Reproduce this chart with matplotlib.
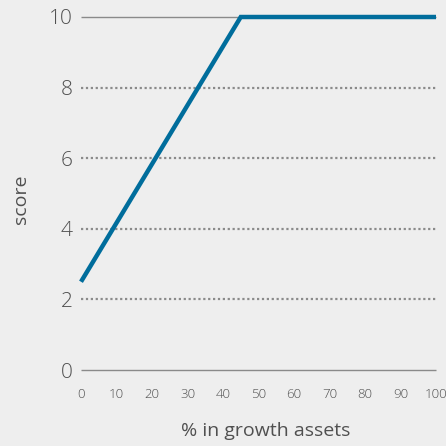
import matplotlib
matplotlib.use("Agg")
import matplotlib.pyplot as plt

BG, LINE, GRID, TXT = "#eeeeee", "#006d9c", "#8a8a8a", "#505050"

growth_pct = [0, 45, 100]
score = [2.5, 10, 10]
yticks = [0, 2, 4, 6, 8, 10]
xticks = list(range(0, 101, 10))

plt.rcParams["font.family"] = ["Open Sans", "DejaVu Sans"]
plt.rcParams["font.weight"] = "light"

fig = plt.figure(figsize=(4.46, 4.46), dpi=100, facecolor=BG)
ax = fig.add_axes([81 / 446, 1 - 370 / 446, 355 / 446, 353 / 446], facecolor=BG)

# gridlines: solid at top and bottom, dotted in between
for y in yticks:
    if y in (0, 10):
        ax.plot([0, 100], [y, y], color=GRID, lw=1.0, zorder=1,
                solid_capstyle="butt", clip_on=False)
    else:
        ax.plot([0, 100], [y, y], color=GRID, lw=1.6, ls=(0, (1, 1.2)), zorder=1)

ax.plot(growth_pct, score, color=LINE, lw=3.2, zorder=3, solid_capstyle="butt",
        solid_joinstyle="miter", clip_on=False)

ax.set_xlim(0, 100)
ax.set_ylim(0, 10)
ax.set_xticks(xticks)
ax.set_yticks(yticks)
ax.tick_params(axis="x", length=0, pad=13, labelsize=9.5, labelcolor=TXT)
ax.tick_params(axis="y", length=0, pad=6, labelsize=15, labelcolor=TXT)
for s in ax.spines.values():
    s.set_visible(False)

ax.set_xlabel("% in growth assets", fontsize=14, color=TXT)
ax.xaxis.set_label_coords(0.52, -0.172)
ax.xaxis.label.set_va("center")
ax.set_ylabel("score", fontsize=14, color=TXT)
ax.yaxis.set_label_coords(-0.17, 0.485)
ax.yaxis.label.set_va("center")

fig.savefig("out.png", dpi=100, facecolor=BG)
